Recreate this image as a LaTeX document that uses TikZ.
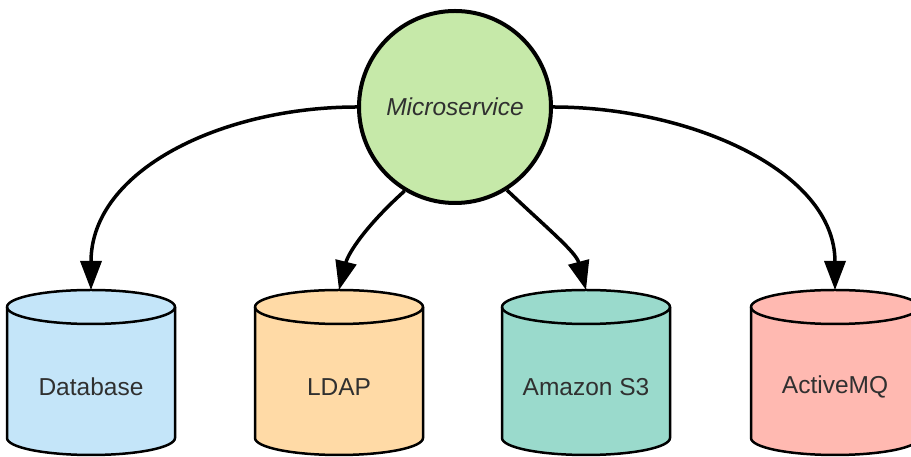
\documentclass[tikz,border=0pt]{standalone}
\usepackage{fontspec}
\setmainfont{Liberation Sans}
\usetikzlibrary{arrows.meta,calc}
\definecolor{msgreen}{HTML}{C6E9A9}
\definecolor{dbblue}{HTML}{C4E5F9}
\definecolor{ldaporange}{HTML}{FFDAA6}
\definecolor{sthree}{HTML}{9ADACC}
\definecolor{mqred}{HTML}{FFB9B1}
\definecolor{txt}{HTML}{303030}
\tikzset{
  msnode/.style={circle, draw=black, line width=4pt, fill=msgreen, minimum size=192pt, inner sep=0pt,
    font=\fontsize{24.5}{29}\selectfont\itshape, text=txt},
  cylholder/.style={minimum width=168pt, minimum height=165pt, inner sep=0pt, outer sep=0pt},
  cylline/.style={draw=black, line width=2.5pt, line join=round},
  lbl/.style={font=\fontsize{24.5}{29}\selectfont, text=txt, inner sep=0pt},
  arr/.style={line width=3.5pt, -{Triangle[length=29pt,width=21pt]}},
}
\newcommand{\mycyl}[5]{%
  \node[cylholder] (#1) at (#2,84.5) {};
  \draw[cylline, fill=#3] ([yshift=-17pt]#1.north west) -- ([yshift=17pt]#1.south west)
     arc[start angle=180, end angle=360, x radius=84pt, y radius=17pt]
     -- ([yshift=-17pt]#1.north east)
     arc[start angle=0, end angle=180, x radius=84pt, y radius=17pt] -- cycle;
  \draw[cylline] ([yshift=-17pt]#1.north west)
     arc[start angle=180, end angle=360, x radius=84pt, y radius=17pt];
  \node[lbl] (#1t) at (#2,70) {#4};
}
\begin{document}
\begin{tikzpicture}[x=1pt,y=1pt]
\useasboundingbox (0,0) rectangle (911,457);
\node[msnode] (mc) at (455,350) {Microservice};
\mycyl{db}{91}{dbblue}{Database}{}
\mycyl{ldap}{339}{ldaporange}{LDAP}{}
\mycyl{sthree}{586}{sthree}{Amazon S3}{}
\mycyl{mq}{835}{mqred}{ActiveMQ}{}
\draw[arr] (mc.west) .. controls +(-135,0) and +(0,120) .. (db.north);
\draw[arr] (mc.east) .. controls +(135,0) and +(0,120) .. (mq.north);
\draw[arr] (mc.239) .. controls +(-40,-36) and +(9,36) .. (ldap.north);
\draw[arr] (mc.302) .. controls +(40,-38) and +(-10,38) .. (sthree.north);
\end{tikzpicture}
\end{document}
